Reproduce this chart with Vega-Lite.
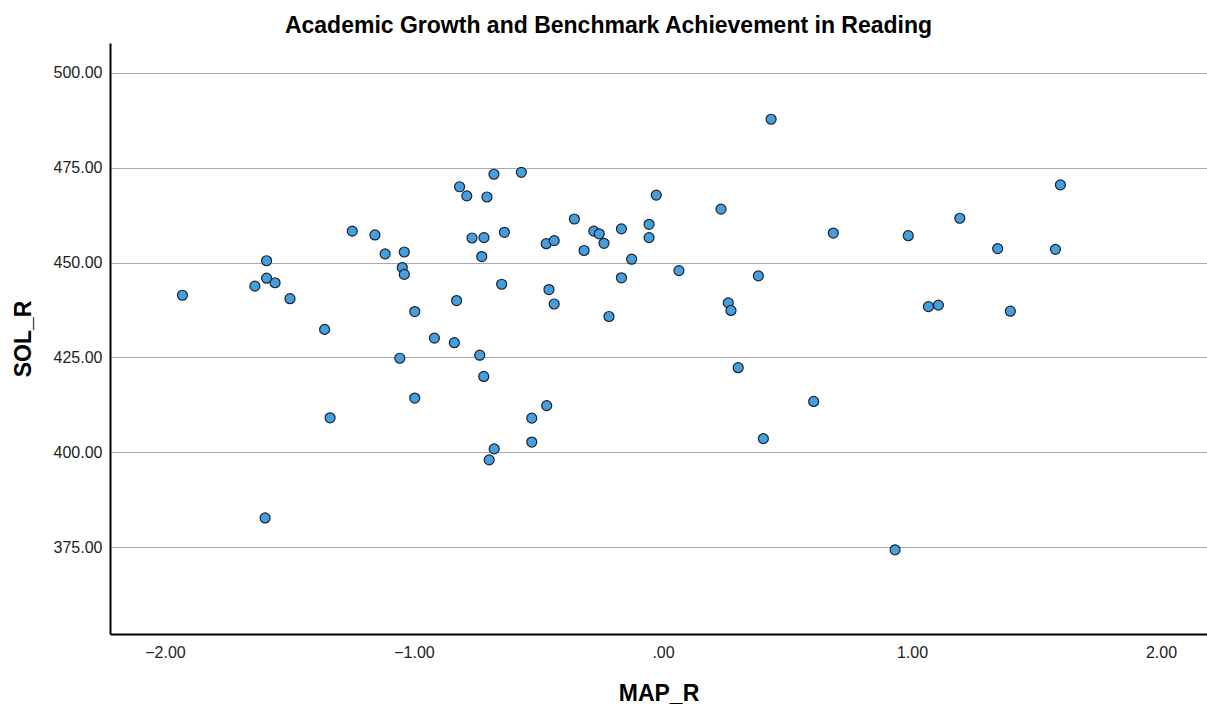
{
  "$schema": "https://vega.github.io/schema/vega-lite/v6.json",
  "width": 1097,
  "height": 591,
  "autosize": {"type": "none"},
  "padding": {"left": 110, "top": 43, "right": 0, "bottom": 72},
  "background": "white",
  "title": {
    "text": "Academic Growth and Benchmark Achievement in Reading",
    "font": "Liberation Sans",
    "fontSize": 23,
    "fontWeight": "bold",
    "color": "#000000",
    "offset": 5,
    "dx": -50
  },
  "data": {
    "values": [
      {"MAP_R": -1.930, "SOL_R": 441.4},
      {"MAP_R": -1.592, "SOL_R": 450.5},
      {"MAP_R": -1.592, "SOL_R": 445.9},
      {"MAP_R": -1.558, "SOL_R": 444.7},
      {"MAP_R": -1.639, "SOL_R": 443.8},
      {"MAP_R": -1.498, "SOL_R": 440.5},
      {"MAP_R": -1.359, "SOL_R": 432.4},
      {"MAP_R": -1.337, "SOL_R": 409.1},
      {"MAP_R": -1.248, "SOL_R": 458.3},
      {"MAP_R": -1.157, "SOL_R": 457.3},
      {"MAP_R": -1.116, "SOL_R": 452.3},
      {"MAP_R": -1.039, "SOL_R": 452.8},
      {"MAP_R": -1.047, "SOL_R": 448.7},
      {"MAP_R": -1.039, "SOL_R": 446.9},
      {"MAP_R": -0.997, "SOL_R": 437.1},
      {"MAP_R": -0.918, "SOL_R": 430.1},
      {"MAP_R": -1.057, "SOL_R": 424.8},
      {"MAP_R": -0.997, "SOL_R": 414.3},
      {"MAP_R": -1.598, "SOL_R": 382.7},
      {"MAP_R": -0.817, "SOL_R": 470.0},
      {"MAP_R": -0.788, "SOL_R": 467.6},
      {"MAP_R": -0.707, "SOL_R": 467.3},
      {"MAP_R": -0.679, "SOL_R": 473.3},
      {"MAP_R": -0.569, "SOL_R": 473.8},
      {"MAP_R": -0.767, "SOL_R": 456.5},
      {"MAP_R": -0.719, "SOL_R": 456.6},
      {"MAP_R": -0.637, "SOL_R": 458.0},
      {"MAP_R": -0.728, "SOL_R": 451.6},
      {"MAP_R": -0.648, "SOL_R": 444.3},
      {"MAP_R": -0.829, "SOL_R": 440.0},
      {"MAP_R": -0.838, "SOL_R": 428.9},
      {"MAP_R": -0.736, "SOL_R": 425.6},
      {"MAP_R": -0.720, "SOL_R": 420.0},
      {"MAP_R": -0.356, "SOL_R": 461.5},
      {"MAP_R": -0.469, "SOL_R": 455.0},
      {"MAP_R": -0.437, "SOL_R": 455.8},
      {"MAP_R": -0.317, "SOL_R": 453.2},
      {"MAP_R": -0.278, "SOL_R": 458.3},
      {"MAP_R": -0.256, "SOL_R": 457.6},
      {"MAP_R": -0.237, "SOL_R": 455.1},
      {"MAP_R": -0.167, "SOL_R": 458.9},
      {"MAP_R": -0.167, "SOL_R": 446.0},
      {"MAP_R": -0.458, "SOL_R": 442.9},
      {"MAP_R": -0.437, "SOL_R": 439.1},
      {"MAP_R": -0.217, "SOL_R": 435.8},
      {"MAP_R": -0.126, "SOL_R": 450.9},
      {"MAP_R": -0.056, "SOL_R": 460.1},
      {"MAP_R": -0.056, "SOL_R": 456.6},
      {"MAP_R": -0.027, "SOL_R": 467.8},
      {"MAP_R": 0.064, "SOL_R": 447.9},
      {"MAP_R": 0.233, "SOL_R": 464.1},
      {"MAP_R": 0.262, "SOL_R": 439.4},
      {"MAP_R": 0.273, "SOL_R": 437.4},
      {"MAP_R": 0.383, "SOL_R": 446.5},
      {"MAP_R": 0.302, "SOL_R": 422.3},
      {"MAP_R": -0.467, "SOL_R": 412.3},
      {"MAP_R": -0.527, "SOL_R": 409.0},
      {"MAP_R": -0.527, "SOL_R": 402.7},
      {"MAP_R": -0.678, "SOL_R": 400.9},
      {"MAP_R": -0.698, "SOL_R": 398.0},
      {"MAP_R": 0.605, "SOL_R": 413.4},
      {"MAP_R": 0.403, "SOL_R": 403.6},
      {"MAP_R": 0.434, "SOL_R": 487.8},
      {"MAP_R": 0.684, "SOL_R": 457.8},
      {"MAP_R": 0.985, "SOL_R": 457.1},
      {"MAP_R": 1.192, "SOL_R": 461.7},
      {"MAP_R": 1.344, "SOL_R": 453.7},
      {"MAP_R": 1.066, "SOL_R": 438.4},
      {"MAP_R": 1.106, "SOL_R": 438.8},
      {"MAP_R": 1.395, "SOL_R": 437.2},
      {"MAP_R": 1.576, "SOL_R": 453.5},
      {"MAP_R": 1.596, "SOL_R": 470.5},
      {"MAP_R": 0.932, "SOL_R": 374.3}
    ]
  },
  "mark": {
    "type": "point",
    "shape": "circle",
    "filled": true,
    "fill": "#459fdc",
    "stroke": "#1a2330",
    "strokeWidth": 1.2,
    "size": 100,
    "opacity": 1
  },
  "encoding": {
    "x": {
      "field": "MAP_R",
      "type": "quantitative",
      "scale": {"domain": [-2.2209, 2.1847], "nice": false, "zero": false},
      "axis": {
        "title": "MAP_R",
        "values": [-2, -1, 0, 1, 2],
        "labelExpr": "datum.value == 0 ? '.00' : format(datum.value, '.2f')",
        "grid": false,
        "ticks": false,
        "tickSize": 0,
        "labelPadding": 10,
        "labelFont": "Liberation Sans",
        "labelFontSize": 16,
        "labelColor": "#222222",
        "domainColor": "#000000",
        "domainWidth": 2,
        "titleFont": "Liberation Sans",
        "titleFontSize": 23,
        "titleFontWeight": "bold",
        "titleColor": "#000000",
        "titleBaseline": "alphabetic",
        "titleY": 66
      }
    },
    "y": {
      "field": "SOL_R",
      "type": "quantitative",
      "scale": {"domain": [352.1, 507.9], "nice": false, "zero": false},
      "axis": {
        "title": "SOL_R",
        "values": [375, 400, 425, 450, 475, 500],
        "labelExpr": "format(datum.value, '.2f')",
        "grid": true,
        "gridColor": "#aaaaaa",
        "gridWidth": 1,
        "ticks": false,
        "tickSize": 0,
        "labelPadding": 8,
        "labelFont": "Liberation Sans",
        "labelFontSize": 16,
        "labelColor": "#222222",
        "domainColor": "#000000",
        "domainWidth": 2,
        "titleFont": "Liberation Sans",
        "titleFontSize": 23,
        "titleFontWeight": "bold",
        "titleColor": "#000000",
        "titleAngle": -90,
        "titleBaseline": "alphabetic",
        "titleX": -80
      }
    }
  },
  "config": {
    "view": {"stroke": null}
  }
}
